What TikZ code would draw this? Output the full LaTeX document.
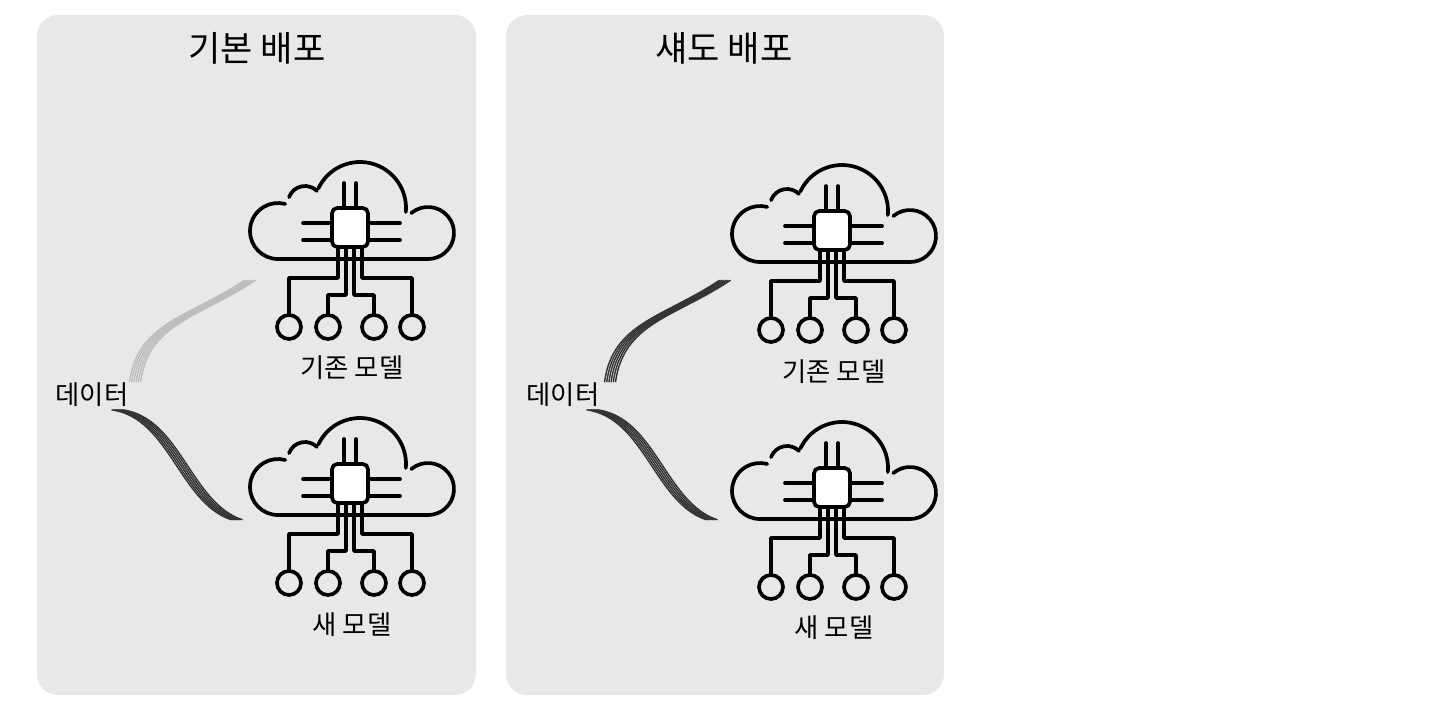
\documentclass[tikz,border=0pt]{standalone}
\usepackage{fontspec}
\setmainfont{Noto Sans CJK KR}
\definecolor{panelgray}{HTML}{E8E8E8}
\definecolor{wiredark}{HTML}{333333}
\definecolor{wirelight}{HTML}{BDBDBD}
\tikzset{
  panel/.style={fill=panelgray, draw=none, rounded corners=12pt},
  title/.style={font=\fontsize{20}{24}\selectfont},
  label/.style={font=\fontsize{15}{18}\selectfont},
  icon/.style={line width=2.1pt, line join=round, line cap=round},
  wire/.style={line width=0.8pt},
  cloudchip/.pic={
    \begin{scope}[yscale=-1, icon]
      % cloud
      \draw (-72,-31) arc[start angle=270, end angle=75, radius=28];
      \draw (-45,25) ++(160:17) arc[start angle=160, end angle=45, radius=17];
      \draw (10,20) ++(155:46) arc[start angle=155, end angle=-5, radius=46];
      \draw (78,-5) ++(130:26) arc[start angle=130, end angle=-90, radius=26];
      \draw (-72,-31) -- (78,-31);
      % chip
      \draw[fill=white, rounded corners=3pt] (-18,-19) rectangle (18,20);
      \foreach \x in {-6,6} \draw (\x,20) -- (\x,45);
      \foreach \y in {5,-12} {
        \draw (-18,\y) -- (-47,\y);
        \draw (18,\y) -- (50,\y);
      }
      % circuit
      \draw (-12,-19) |- (-61,-50) -- (-61,-87);
      \draw (12,-19) |- (62,-50) -- (62,-87);
      \draw (-4,-19) |- (-22,-67) -- (-22,-87);
      \draw (4,-19) |- (24,-67) -- (24,-87);
      \foreach \x in {-61,-22,24,62} \draw (\x,-99) circle (12);
    \end{scope}
  }
}
\newcommand\wirebundle[6]{%
  \foreach \k in {-2.5,-1.5,...,2.5}
    \draw[wire, #6, shift={(\k*#5)}] #1 .. controls #2 and #3 .. #4;
}
\begin{document}
\begin{tikzpicture}[x=0.02cm, y=-0.02cm]
\useasboundingbox (0,0) rectangle (1456,720);
\fill[white] (0,0) rectangle (1456,720);

% panels
\path[panel] (37,15) rectangle (476,695);
\path[panel] (506,15) rectangle (944,695);
\node[title] (basictitle) at (257,48) {기본 배포};
\node[title] (shadowtitle) at (724,48) {섀도 배포};

% icons
\pic (oldA) at (350,228) {cloudchip};
\pic (newA) at (350,484) {cloudchip};
\pic (oldB) at (832,231) {cloudchip};
\pic (newB) at (832,488) {cloudchip};

\node[label] (oldAlabel) at (352,368) {기존 모델};
\node[label] (newAlabel) at (352,625) {새 모델};
\node[label] (oldBlabel) at (834,372) {기존 모델};
\node[label] (newBlabel) at (834,628) {새 모델};

\node[label] (dataA) at (92,395) {데이터};
\node[label] (dataB) at (563,395) {데이터};

% data streams
\wirebundle{(135,380)}{(143,320)}{(195,315)}{(250,278)}{(2.2,2.2)}{wirelight}
\wirebundle{(117,412)}{(175,420)}{(185,505)}{(237,522)}{(2.2,-2.2)}{wiredark}
\wirebundle{(610,380)}{(618,320)}{(670,315)}{(725,278)}{(2.2,2.2)}{wiredark}
\wirebundle{(592,412)}{(650,420)}{(660,505)}{(712,522)}{(2.2,-2.2)}{wiredark}
\end{tikzpicture}
\end{document}
